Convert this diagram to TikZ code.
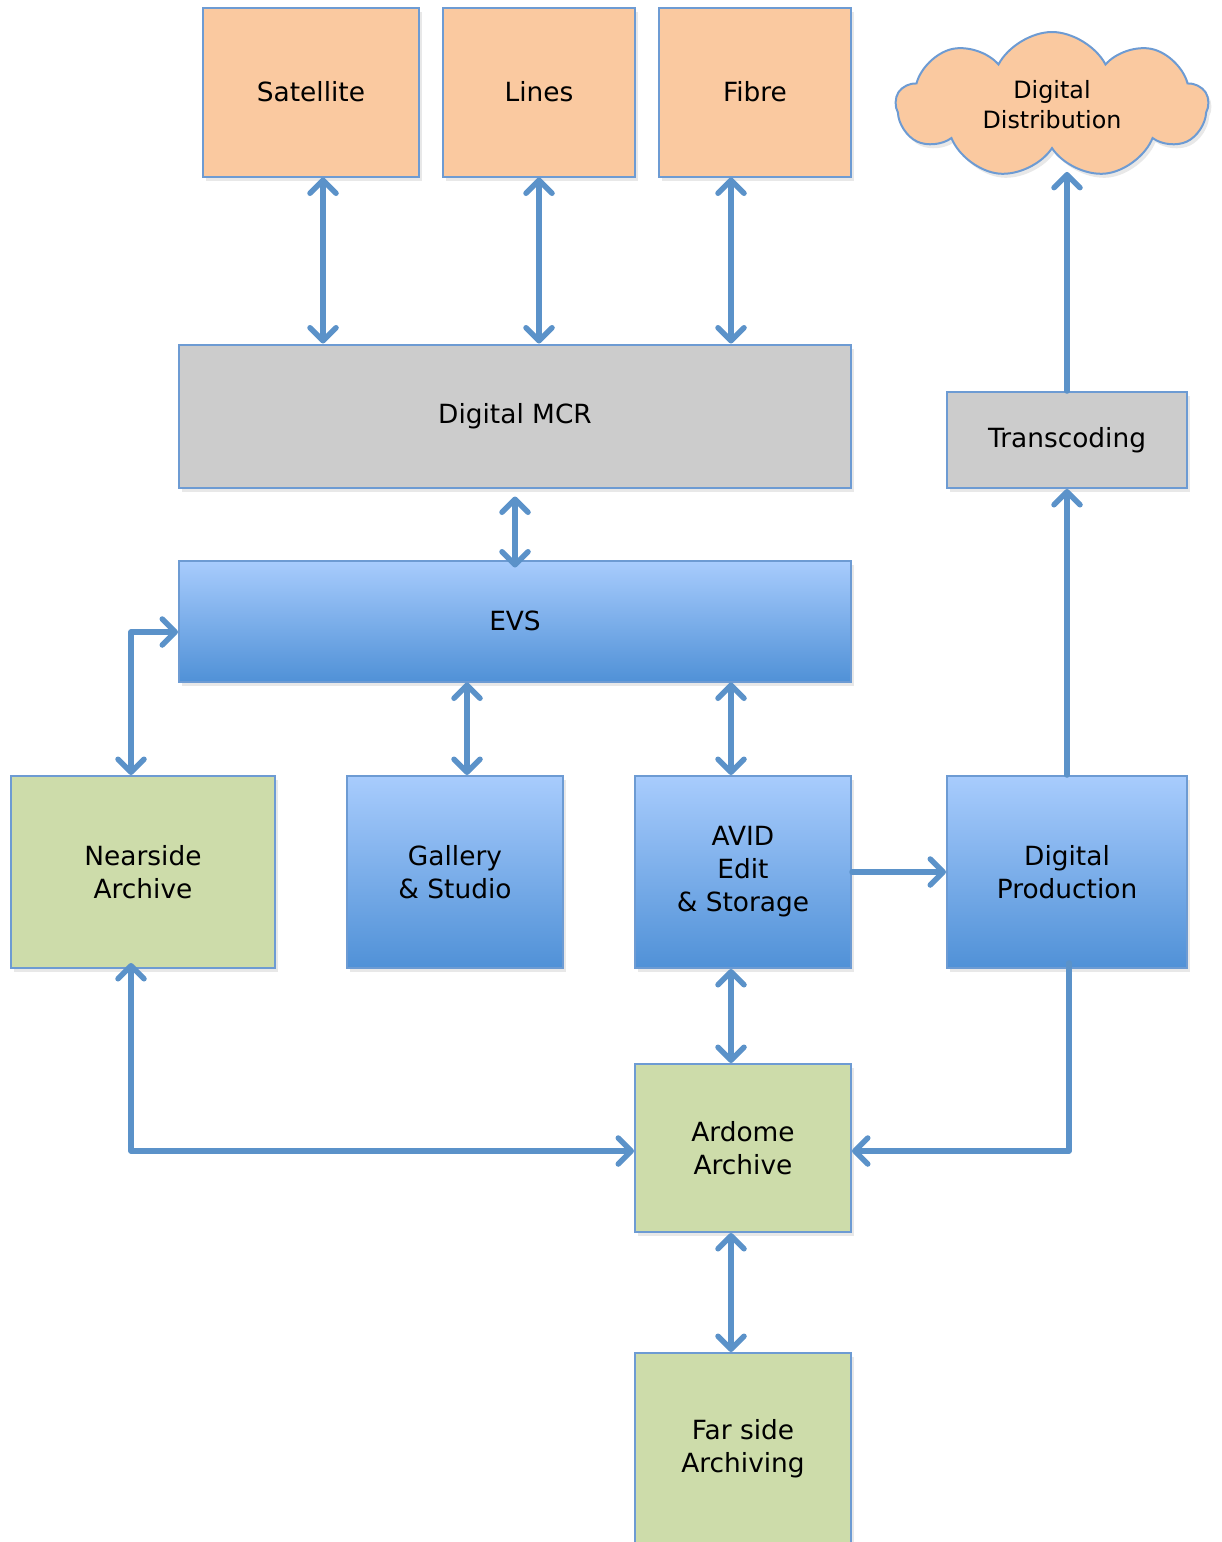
\documentclass[tikz,border=0pt]{standalone}
\usepackage{fontspec}
\setmainfont{DejaVu Sans}
\usetikzlibrary{arrows.meta,shapes.symbols,shadows}

\definecolor{peach}{RGB}{250,201,160}
\definecolor{mcrgray}{RGB}{204,204,204}
\definecolor{archgreen}{RGB}{205,220,170}
\definecolor{bluetop}{RGB}{168,204,253}
\definecolor{bluebot}{RGB}{80,145,215}
\definecolor{edgeblue}{RGB}{109,155,211}
\definecolor{linkblue}{RGB}{91,146,201}

\begin{document}
\begin{tikzpicture}[x=1pt,y=-1pt,
  box/.style={draw=edgeblue, line width=2pt, rectangle, align=center, inner sep=0pt,
    font=\fontsize{26.4}{33}\selectfont,
    drop shadow={shadow xshift=3pt, shadow yshift=-4pt, opacity=0.18}},
  feed/.style={box, fill=peach},
  grey/.style={box, fill=mcrgray},
  green/.style={box, fill=archgreen},
  bluebox/.style={box, top color=bluetop, bottom color=bluebot},
  link/.style={draw=linkblue, line width=5.5pt, line cap=round, line join=round,
    >={Straight Barb[length=13pt,width=26pt,line cap=round,line join=round]}}]
\useasboundingbox (0,0) rectangle (1222,1542);

\node[feed, minimum width=216pt, minimum height=169pt] (sat) at (311,92) {Satellite};
\node[feed, minimum width=192pt, minimum height=169pt] (lin) at (539,92) {Lines};
\node[feed, minimum width=192pt, minimum height=169pt] (fib) at (755,92) {Fibre};
\node[cloud, cloud puffs=9, cloud puff arc=125, cloud ignores aspect,
  draw=edgeblue, line width=2pt, fill=peach, align=center, inner sep=0pt,
  minimum width=312pt, minimum height=146pt, font=\fontsize{23.8}{30}\selectfont,
  drop shadow={shadow xshift=3pt, shadow yshift=-4pt, opacity=0.18}]
  (dist) at (1052,105) {Digital\\Distribution};

\node[grey, minimum width=672pt, minimum height=143pt] (mcr) at (515,416) {Digital MCR};
\node[grey, minimum width=240pt, minimum height=96pt] (trans) at (1067,440) {Transcoding};
\node[bluebox, minimum width=672pt, minimum height=121pt] (evs) at (515,621) {EVS};

\node[green, minimum width=264pt, minimum height=192pt] (near) at (143,872) {Nearside\\Archive};
\node[bluebox, minimum width=216pt, minimum height=192pt] (gal) at (455,872) {Gallery\\\& Studio};
\node[bluebox, minimum width=216pt, minimum height=192pt] (avid) at (743,872) {AVID\\Edit\\\& Storage};
\node[bluebox, minimum width=240pt, minimum height=192pt] (prod) at (1067,872) {Digital\\Production};

\node[green, minimum width=216pt, minimum height=168pt] (ard) at (743,1148) {Ardome\\Archive};
\node[green, minimum width=216pt, minimum height=192pt] (far) at (743,1449) {Far side\\Archiving};

% feeds into the MCR
\path[link,<->] ([xshift=12pt]sat.south) -- ([xshift=12pt]sat.south |- mcr.north);
\path[link,<->] (lin.south) -- (lin.south |- mcr.north);
\path[link,<->] ([xshift=-24pt]fib.south) -- ([xshift=-24pt]fib.south |- mcr.north);
\path[link,<->] ([yshift=-8pt]mcr.south) -- ([yshift=-8pt]evs.north);

% EVS and the edit floor
\path[link,<->] ([yshift=-11pt]evs.west) -| ([xshift=-12pt]near.north);
\path[link,<->] ([xshift=12pt]gal.north |- evs.south) -- ([xshift=12pt]gal.north);
\path[link,<->] ([xshift=-12pt]avid.north |- evs.south) -- ([xshift=-12pt]avid.north);
\path[link,->] (avid.east) -- (prod.west);

% archives
\path[link,<->] ([xshift=-12pt]avid.south) -- ([xshift=-12pt]ard.north);
\path[link,<->] ([xshift=-12pt,yshift=6pt]near.south) |- ([yshift=-3pt]ard.west);
\path[link,->] ([xshift=2pt,yshift=6pt]prod.south) |- ([yshift=-3pt]ard.east);
\path[link,<->] ([xshift=-12pt]ard.south) -- ([xshift=-12pt]far.north);

% distribution
\path[link,->] (trans.north) -- ([yshift=-22pt]dist.south -| trans.north);
\path[link,->] (prod.north) -- (trans.south);
\end{tikzpicture}
\end{document}
